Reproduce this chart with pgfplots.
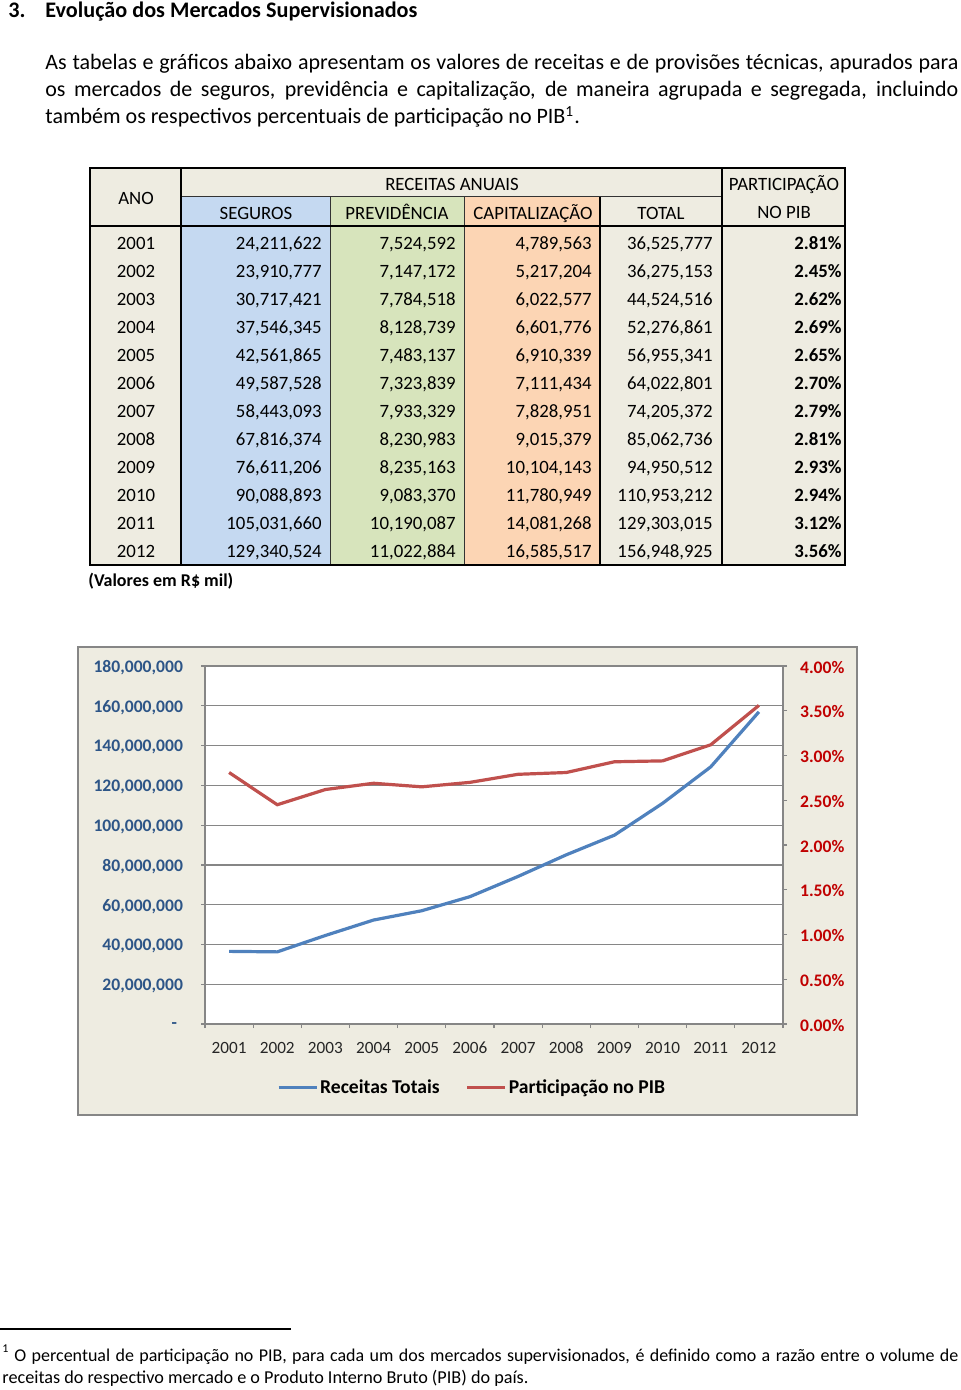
\documentclass[border=0pt]{standalone}
\usepackage{fontspec}
\setmainfont{Carlito}
\usepackage{graphicx}
\usepackage{pgfplots}
\pgfplotsset{compat=1.18}
\definecolor{beige}{RGB}{238,236,225}
\definecolor{segblue}{RGB}{197,217,241}
\definecolor{prevgreen}{RGB}{215,228,188}
\definecolor{cappeach}{RGB}{252,213,180}
\definecolor{lineblue}{RGB}{79,129,189}
\definecolor{linered}{RGB}{192,80,77}
\definecolor{axisblue}{RGB}{45,85,135}
\definecolor{darkred}{RGB}{192,0,0}
\definecolor{gridgray}{RGB}{134,134,134}
\newcommand\fs[1]{\fontsize{#1}{#1}\selectfont}
% table row: #1 = baseline y (px), #2 year, #3..#6 values, #7 pib
\newcommand\trow[7]{%
  \node[anchor=base,inner sep=0] at (136,#1) {\fs{9.4}#2};
  \node[anchor=base east,inner sep=0] at (322,#1) {\fs{9.4}#3};
  \node[anchor=base east,inner sep=0] at (456,#1) {\fs{9.4}#4};
  \node[anchor=base east,inner sep=0] at (592,#1) {\fs{9.4}#5};
  \node[anchor=base east,inner sep=0] at (713,#1) {\fs{9.4}#6};
  \node[anchor=base east,inner sep=0] at (842,#1) {\fs{9.4}\bfseries #7};
}
\begin{document}
\begin{tikzpicture}
\begin{scope}[x=0.5pt,y=-0.5pt]
\useasboundingbox (0,0) rectangle (960,1390);
% heading and paragraph
\node[anchor=base west,inner sep=0] at (8,18) {\fs{11.1}\bfseries 3.};
\node[anchor=base west,inner sep=0] at (45,18) {\fs{11.1}\bfseries Evolução dos Mercados Supervisionados};
\node[anchor=base west,inner sep=0] at (45,70) {\fs{11}\makebox[456.5pt][s]{As tabelas e gráficos abaixo apresentam os valores de receitas e de provisões técnicas, apurados para}};
\node[anchor=base west,inner sep=0] at (45,97) {\fs{11}\makebox[456.5pt][s]{os mercados de seguros, previdência e capitalização, de maneira agrupada e segregada, incluindo}};
\node[anchor=base west,inner sep=0] at (45,124) {\fs{11}também os respectivos percentuais de participação no PIB\textsuperscript{1}.};
% table fills
\fill[beige] (90,168) rectangle (845,565);
\fill[segblue] (181,197) rectangle (330,565);
\fill[prevgreen] (330,197) rectangle (464,565);
\fill[cappeach] (464,197) rectangle (600,565);
% thin lines
\draw[black!80,line width=0.5pt] (181,197) -- (722,197);
\draw[black!80,line width=0.5pt] (330,197) -- (330,565);
\draw[black!80,line width=0.5pt] (464,197) -- (464,565);
% thick lines
\draw[black,line width=1pt] (90,168) rectangle (845,565);
\draw[black,line width=1pt] (181,168) -- (181,565);
\draw[black,line width=1pt] (600,197) -- (600,565);
\draw[black,line width=1pt] (722,168) -- (722,565);
\draw[black,line width=1pt] (90,226) -- (845,226);
% header texts
\node[anchor=base,inner sep=0] at (136,205) {\fs{9.4}ANO};
\node[anchor=base,inner sep=0] at (452,191) {\fs{9.4}RECEITAS ANUAIS};
\node[anchor=base,inner sep=0] at (256,220) {\fs{9.4}SEGUROS};
\node[anchor=base,inner sep=0] at (397,220) {\fs{9.4}PREVIDÊNCIA};
\node[anchor=base,inner sep=0] at (533,220) {\fs{9.4}CAPITALIZAÇÃO};
\node[anchor=base,inner sep=0] at (661,220) {\fs{9.4}TOTAL};
\node[anchor=base,inner sep=0] at (784,191) {\fs{9.4}PARTICIPAÇÃO};
\node[anchor=base,inner sep=0] at (784,219) {\fs{9.4}NO PIB};
% rows
\trow{249.8}{2001}{24,211,622}{7,524,592}{4,789,563}{36,525,777}{2.81\%}
\trow{277.8}{2002}{23,910,777}{7,147,172}{5,217,204}{36,275,153}{2.45\%}
\trow{305.8}{2003}{30,717,421}{7,784,518}{6,022,577}{44,524,516}{2.62\%}
\trow{333.8}{2004}{37,546,345}{8,128,739}{6,601,776}{52,276,861}{2.69\%}
\trow{361.8}{2005}{42,561,865}{7,483,137}{6,910,339}{56,955,341}{2.65\%}
\trow{389.8}{2006}{49,587,528}{7,323,839}{7,111,434}{64,022,801}{2.70\%}
\trow{417.8}{2007}{58,443,093}{7,933,329}{7,828,951}{74,205,372}{2.79\%}
\trow{445.8}{2008}{67,816,374}{8,230,983}{9,015,379}{85,062,736}{2.81\%}
\trow{473.8}{2009}{76,611,206}{8,235,163}{10,104,143}{94,950,512}{2.93\%}
\trow{501.8}{2010}{90,088,893}{9,083,370}{11,780,949}{110,953,212}{2.94\%}
\trow{529.8}{2011}{105,031,660}{10,190,087}{14,081,268}{129,303,015}{3.12\%}
\trow{557.8}{2012}{129,340,524}{11,022,884}{16,585,517}{156,948,925}{3.56\%}
\node[anchor=base west,inner sep=0] at (88,586) {\fs{9}\bfseries (Valores em R\$ mil)};
% chart frame
\draw[gridgray,line width=1pt,fill=beige] (78,647) rectangle (857,1115);
% footnote
\draw[black,line width=0.6pt] (0,1329) -- (291,1329);
\node[anchor=base west,inner sep=0] at (2,1352) {\fs{6}1};
\node[anchor=base west,inner sep=0] at (14,1361) {\fs{9}\makebox[472pt][s]{O percentual de participação no PIB, para cada um dos mercados supervisionados, é definido como a razão entre o volume de}};
\node[anchor=base west,inner sep=0] at (2,1383) {\fs{9.1}receitas do respectivo mercado e o Produto Interno Bruto (PIB) do país.};
\end{scope}
% chart
\begin{axis}[
  at={(102.5pt,-512pt)}, anchor=south west,
  scale only axis, width=289pt, height=179pt,
  xmin=-0.5, xmax=11.5, ymin=0, ymax=180000000,
  scaled y ticks=false,
  axis y line*=left, axis x line*=bottom,
  axis line style={gridgray,line width=0.6pt},
  axis background/.style={fill=white},
  xtick={0,1,2,3,4,5,6,7,8,9,10,11},
  xticklabels={2001,2002,2003,2004,2005,2006,2007,2008,2009,2010,2011,2012},
  major x tick style={draw=none},
  minor xtick={-0.5,0.5,1.5,2.5,3.5,4.5,5.5,6.5,7.5,8.5,9.5,10.5,11.5},
  minor x tick style={gridgray,line width=0.6pt},
  tick align=outside, major tick length=2pt, minor tick length=2pt,
  ytick={0,20000000,40000000,60000000,80000000,100000000,120000000,140000000,160000000,180000000},
  yticklabels={{-\hspace*{3pt}},{20,000,000},{40,000,000},{60,000,000},{80,000,000},{100,000,000},{120,000,000},{140,000,000},{160,000,000},{180,000,000}},
  major y tick style={gridgray,line width=0.6pt},
  ymajorgrids, grid style={gridgray,line width=0.6pt},
  yticklabel style={font=\fs{8.8}\bfseries, text=axisblue, xshift=-5.5pt, yshift=-0.8pt},
  xticklabel style={font=\fs{8.6}, text=black!85, yshift=-3.5pt},
]
\addplot[lineblue,line width=1.6pt] coordinates {
(0,36525777) (1,36275153) (2,44524516) (3,52276861) (4,56955341) (5,64022801)
(6,74205372) (7,85062736) (8,94950512) (9,110953212) (10,129303015) (11,156948925)};
\end{axis}
\begin{axis}[
  at={(102.5pt,-512pt)}, anchor=south west,
  scale only axis, width=289pt, height=179pt,
  xmin=-0.5, xmax=11.5, ymin=0, ymax=4,
  axis y line*=right, axis x line=none, xtick=\empty,
  axis line style={gridgray,line width=0.6pt},
  tick align=outside, major tick length=2pt,
  ytick={0,0.5,1,1.5,2,2.5,3,3.5,4},
  yticklabels={0.00\%,0.50\%,1.00\%,1.50\%,2.00\%,2.50\%,3.00\%,3.50\%,4.00\%},
  major y tick style={gridgray,line width=0.6pt},
  yticklabel style={font=\fs{8.8}\bfseries, text=darkred, xshift=3pt, yshift=-0.5pt},
  legend style={at={(0.462,-0.178)}, anchor=center, draw=none, fill=none,
    font=\fs{9.8}\bfseries, legend columns=2,
    nodes={inner xsep=1pt},
    /tikz/every even column/.append style={column sep=12pt}},
  legend image code/.code={\draw[#1] (0pt,0pt) -- (19pt,0pt);},
]
\addlegendimage{lineblue,line width=1.6pt}
\addlegendentry{Receitas Totais}
\addplot[linered,line width=1.6pt] coordinates {
(0,2.81) (1,2.45) (2,2.62) (3,2.69) (4,2.65) (5,2.70)
(6,2.79) (7,2.81) (8,2.93) (9,2.94) (10,3.12) (11,3.56)};
\addlegendentry{Participação no PIB}
\end{axis}
\end{tikzpicture}
\end{document}
